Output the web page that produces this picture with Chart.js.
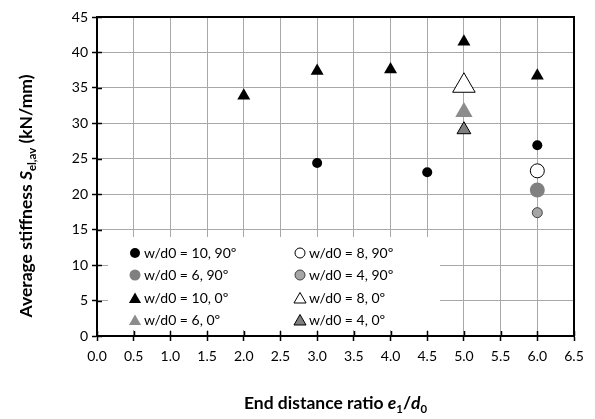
<!DOCTYPE html>
<html>
<head>
  <meta charset="utf-8" />
  <title>Average stiffness vs end distance ratio</title>
  <script src="https://cdn.jsdelivr.net/npm/chart.js"></script>
  <style>
    html, body { margin: 0; padding: 0; background: #fff; }
    #wrap { width: 595px; height: 419px; }
  </style>
</head>
<body>
  <div id="wrap"><canvas id="stiffChart" width="595" height="419"></canvas></div>

  <script>
    // Series labels (two legend columns, read row by row)
    const seriesLabels = [
      'w/d0 = 10, 90º', 'w/d0 = 8, 90º',
      'w/d0 = 6, 90º',  'w/d0 = 4, 90º',
      'w/d0 = 10, 0º',  'w/d0 = 8, 0º',
      'w/d0 = 6, 0º',   'w/d0 = 4, 0º'
    ];

    // End distance ratio e1/d0 and average stiffness (kN/mm) per series
    const w10_90_x = [3, 4.5, 6];
    const w10_90_y = [24.4, 23.1, 26.9];
    const w8_90_x = [6];
    const w8_90_y = [23.3];
    const w6_90_x = [6];
    const w6_90_y = [20.6];
    const w4_90_x = [6];
    const w4_90_y = [17.4];
    const w10_0_x = [2, 3, 4, 5, 6];
    const w10_0_y = [33.9, 37.4, 37.6, 41.5, 36.7];
    const w8_0_x = [5];
    const w8_0_y = [35.3];
    const w6_0_x = [5];
    const w6_0_y = [31.6];
    const w4_0_x = [5];
    const w4_0_y = [29.1];

    const FONT = 'Lato, "Open Sans", sans-serif';

    function pts(xs, ys) {
      return xs.map((x, i) => ({ x: x, y: ys[i] }));
    }

    // marker styles: [pointStyle, radius, fill, border, borderWidth, legendRadius]
    const styles = [
      ['circle',   5,   '#000000', '#000000', 0, 5],
      ['circle',   7,   '#ffffff', '#000000', 1, 5],
      ['circle',   7.5, '#808080', '#808080', 0, 5.5],
      ['circle',   5,   '#a6a6a6', '#404040', 1, 5],
      ['triangle', 7.5, '#000000', '#000000', 0, 7],
      ['triangle', 13,  '#ffffff', '#000000', 1, 7],
      ['triangle', 10,  '#8c8c8c', '#8c8c8c', 0, 7],
      ['triangle', 8,   '#7f7f7f', '#000000', 1, 7]
    ];

    const seriesData = [
      pts(w10_90_x, w10_90_y), pts(w8_90_x, w8_90_y),
      pts(w6_90_x, w6_90_y),   pts(w4_90_x, w4_90_y),
      pts(w10_0_x, w10_0_y),   pts(w8_0_x, w8_0_y),
      pts(w6_0_x, w6_0_y),     pts(w4_0_x, w4_0_y)
    ];

    const datasets = seriesData.map((d, i) => ({
      label: seriesLabels[i],
      data: d,
      pointStyle: styles[i][0],
      pointRadius: styles[i][1],
      pointHoverRadius: styles[i][1],
      backgroundColor: styles[i][2],
      borderColor: styles[i][3],
      pointBorderWidth: styles[i][4],
      showLine: false
    }));

    // Draw a line of text made of styled runs (bold / italic / subscript)
    function drawRuns(ctx, runs, size) {
      let total = 0;
      const widths = runs.map(r => {
        const s = r.sub ? size * 0.65 : size;
        ctx.font = (r.italic ? 'italic ' : '') + 'bold ' + s + 'px ' + FONT;
        const w = ctx.measureText(r.t).width;
        total += w;
        return w;
      });
      let x = -total / 2;
      runs.forEach((r, i) => {
        const s = r.sub ? size * 0.65 : size;
        ctx.font = (r.italic ? 'italic ' : '') + 'bold ' + s + 'px ' + FONT;
        ctx.fillText(r.t, x, r.sub ? size * 0.22 : 0);
        x += widths[i];
      });
    }

    const decorPlugin = {
      id: 'decor',
      beforeDatasetsDraw(chart) {
        const ctx = chart.ctx;
        const a = chart.chartArea;
        ctx.save();
        // frame around the plot
        ctx.strokeStyle = '#000';
        ctx.lineWidth = 2;
        ctx.strokeRect(a.left, a.top, a.right - a.left, a.bottom - a.top);

        // inner half of the cross tick marks
        ctx.lineWidth = 1.5;
        chart.scales.x.ticks.forEach(t => {
          const px = Math.round(chart.scales.x.getPixelForValue(t.value)) + 0.5;
          ctx.beginPath();
          ctx.moveTo(px, a.bottom);
          ctx.lineTo(px, a.bottom - 5);
          ctx.stroke();
        });
        chart.scales.y.ticks.forEach(t => {
          const py = Math.round(chart.scales.y.getPixelForValue(t.value)) + 0.5;
          ctx.beginPath();
          ctx.moveTo(a.left, py);
          ctx.lineTo(a.left + 5, py);
          ctx.stroke();
        });

        // legend box
        ctx.fillStyle = '#fff';
        ctx.fillRect(108, 237, 332, a.bottom - 243);
        const colX = [135, 300];
        const rowY = [253, 275, 298, 320];
        ctx.textBaseline = 'middle';
        ctx.textAlign = 'left';
        seriesLabels.forEach((lbl, i) => {
          const col = i % 2, row = Math.floor(i / 2);
          const st = styles[i];
          const x = colX[col], y = rowY[row];
          ctx.fillStyle = st[2];
          ctx.strokeStyle = st[3];
          ctx.lineWidth = st[4] || 1;
          const yy = st[0] === 'triangle' ? y + 1.5 : y;
          Chart.helpers.drawPoint(ctx, { pointStyle: st[0], radius: st[5], rotation: 0, borderWidth: st[4] }, x, yy);
          ctx.fillStyle = '#000';
          ctx.font = '14px ' + FONT;
          ctx.fillText(lbl, x + 9, y);
        });
        ctx.restore();
      },
      afterDraw(chart) {
        const ctx = chart.ctx;
        const a = chart.chartArea;
        ctx.save();
        ctx.fillStyle = '#000';
        ctx.textBaseline = 'alphabetic';
        // x axis title
        ctx.translate((a.left + a.right) / 2, 409);
        drawRuns(ctx, [
          { t: 'End distance ratio ' },
          { t: 'e', italic: true },
          { t: '1', sub: true },
          { t: '/' },
          { t: 'd', italic: true },
          { t: '0', sub: true }
        ], 17.5);
        ctx.restore();

        // y axis title
        ctx.save();
        ctx.fillStyle = '#000';
        ctx.translate(32, 196);
        ctx.rotate(-Math.PI / 2);
        drawRuns(ctx, [
          { t: 'Average stiffness ' },
          { t: 'S', italic: true },
          { t: 'el,av', sub: true },
          { t: ' (kN/mm)' }
        ], 17.5);
        ctx.restore();
      }
    };

    const gridStyle = {
      color: '#a8a8a8',
      lineWidth: 1,
      borderDash: [1, 1],
      drawTicks: true,
      tickLength: 5,
      tickColor: '#000',
      tickWidth: 1.5,
      tickBorderDash: []
    };

    const ctx = document.getElementById('stiffChart').getContext('2d');
    new Chart(ctx, {
      type: 'scatter',
      data: { datasets: datasets },
      options: {
        responsive: false,
        animation: false,
        layout: { padding: { top: 17, right: 21, left: 0, bottom: 0 } },
        plugins: {
          legend: { display: false },
          tooltip: { enabled: false }
        },
        scales: {
          x: {
            type: 'linear',
            min: 0,
            max: 6.5,
            afterFit(s) { s.height = 83; },
            ticks: {
              stepSize: 0.5,
              color: '#000',
              padding: 7,
              font: { family: FONT, size: 14 },
              callback: v => v.toFixed(1)
            },
            grid: gridStyle,
            border: { color: '#000', width: 2 }
          },
          y: {
            min: 0,
            max: 45,
            afterFit(s) { s.width = 97; },
            ticks: {
              stepSize: 5,
              color: '#000',
              padding: 4,
              font: { family: FONT, size: 14 }
            },
            grid: gridStyle,
            border: { color: '#000', width: 2 }
          }
        }
      },
      plugins: [decorPlugin]
    });
  </script>
</body>
</html>
